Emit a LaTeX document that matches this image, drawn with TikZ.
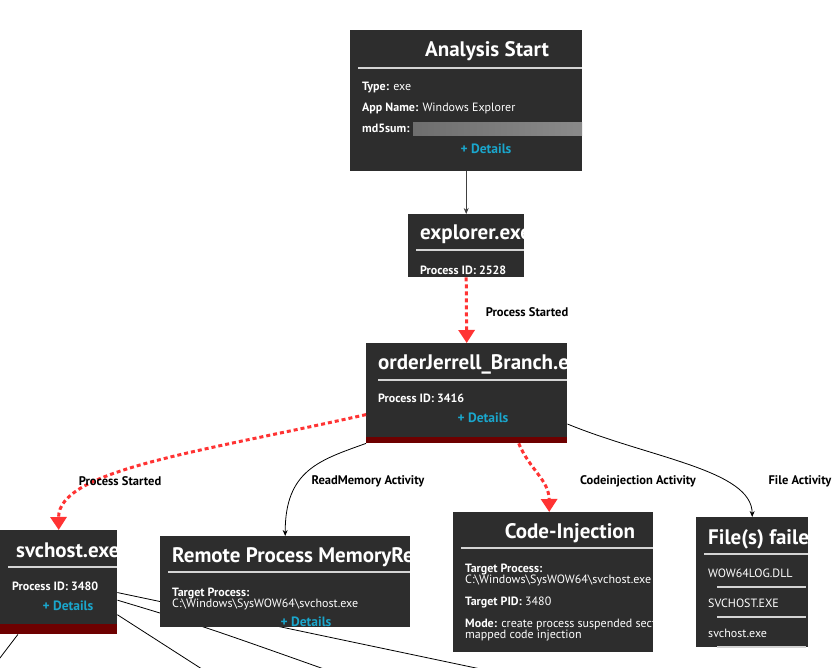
\documentclass[tikz,border=0pt]{standalone}
\usepackage{fontspec}
\setmainfont{PT Sans}
\usetikzlibrary{arrows.meta}
\definecolor{cardfill}{HTML}{2D2D2D}
\definecolor{rulegray}{HTML}{D4D4D4}
\definecolor{detailsblue}{HTML}{1AA6CC}
\definecolor{arrowred}{HTML}{FF3333}
\definecolor{barred}{HTML}{6E0000}
\definecolor{blurgray}{HTML}{8A8A8A}
\begin{document}
\begin{tikzpicture}
[x=1pt,y=-1pt,
  carddecorate/.style={shape=rectangle,fill=cardfill,inner sep=0pt,anchor=north west},%
  titledecorate/.style={anchor=base west,text=white,inner sep=0pt,font=\bfseries\fontsize{21}{25}\selectfont},%
  textdecorate/.style={anchor=base west,text=white,inner sep=0pt,font=\fontsize{12}{14}\selectfont},%
  keydecorate/.style={textdecorate,font=\bfseries\fontsize{12}{14}\selectfont},%
  detailsdecorate/.style={anchor=base,text=detailsblue,inner sep=0pt,font=\bfseries\fontsize{13.5}{15}\selectfont},%
  labeldecorate/.style={inner sep=0pt,font=\bfseries\fontsize{12.5}{14}\selectfont},%
  ruledecorate/.style={draw=rulegray,line width=1.8pt},%
  listruledecorate/.style={draw=rulegray,line width=2.2pt},%
  redlinedecorate/.style={draw=arrowred,line width=3pt,dash pattern=on 4pt off 3pt,
    -{Triangle[length=13pt,width=16pt,fill=arrowred]}},%
  blacklinedecorate/.style={draw=black,line width=0.8pt,-{Stealth[length=6pt,width=5pt]}},%
  plainlinedecorate/.style={draw=black,line width=0.8pt}]
\fill[white] (0,0) rectangle (840,668);
\useasboundingbox (0,0) rectangle (840,668);
\clip (0,0) rectangle (840,668);
%% cards
\node (start) at (350,30) [carddecorate,minimum width=232pt,minimum height=141pt] {};
\node (explorer) at (408,214) [carddecorate,minimum width=116pt,minimum height=63pt] {};
\node (order) at (366,343) [carddecorate,minimum width=201pt,minimum height=100pt] {};
\node (svchost) at (0,530) [carddecorate,minimum width=117pt,minimum height=104pt] {};
%% loose ends of the lines leaving svchost.exe
\coordinate (outa) at (628,700);
\coordinate (outb) at (355,680);
\coordinate (outc) at (219,680);
\coordinate (outd) at (-10,671);
\draw[plainlinedecorate] (svchost.-10.6) -- (outa);
\draw[plainlinedecorate] (svchost.-17.1) .. controls (200,625) .. (outb);
\draw[plainlinedecorate] (svchost.-29.4) -- (outc);
\draw[plainlinedecorate] (svchost.-128.6) -- (outd);
%% cards that hide those lines
\node (remote) at (160,536) [carddecorate,minimum width=250pt,minimum height=91pt] {};
\node (inj) at (453,512) [carddecorate,minimum width=200pt,minimum height=140pt] {};
\node (files) at (696,517) [carddecorate,minimum width=112pt,minimum height=130pt] {};
%% edges
\draw[blacklinedecorate,draw=black!75] (start.south) -- (explorer.north);
\draw[redlinedecorate] (explorer.south) -- (order.north);
\draw[redlinedecorate] (order.192) .. controls (200,452) and (58,470) .. (svchost.north);
\draw[blacklinedecorate] (order.south west) .. controls (320,460) and (285,470) .. (remote.north);
\draw[redlinedecorate] (order.-44) .. controls (530,470) and (549,480) .. ([xshift=-4pt]inj.north);
\draw[blacklinedecorate] (order.-17) .. controls (650,458) and (752,470) .. (files.north);
%% edge labels
\node (lab1) at (527,312) [labeldecorate] {Process Started};
\node (lab2) at (120,481) [labeldecorate] {Process Started};
\node (lab3) at (368,481) [labeldecorate] {ReadMemory Activity};
\node (lab4) at (638,481) [labeldecorate] {Codeinjection Activity};
\node (lab5) at (800,481) [labeldecorate] {File Activity};
%% Analysis Start
\begin{scope}
\clip (start.north west) rectangle (start.south east);
\node at (487,57) [titledecorate,anchor=base] {Analysis Start};
\draw[ruledecorate] (358,68) -- (582,68);
\node at (362,91) [textdecorate] {\textbf{Type:} exe};
\node at (362,112) [textdecorate] {\textbf{App Name:} Windows Explorer};
\node at (362,133) [keydecorate] {md5sum:};
\shade[left color=blurgray!70!cardfill,right color=blurgray] (413,123) rectangle (582,136);
\node at (486,154) [detailsdecorate] {+ Details};
\end{scope}
%% explorer.exe
\begin{scope}
\clip (explorer.north west) rectangle (explorer.south east);
\node at (420,240) [titledecorate] {explorer.exe};
\draw[ruledecorate] (416,250) -- (524,250);
\node at (420,274) [keydecorate] {Process ID: 2528};
\end{scope}
%% orderJerrell_Branch.exe
\begin{scope}
\clip (order.north west) rectangle (order.south east);
\node at (378,369) [titledecorate] {orderJerrell\_Branch.exe};
\draw[ruledecorate] (378,380) -- (567,380);
\node at (378,402) [keydecorate] {Process ID: 3416};
\node at (483,422) [detailsdecorate] {+ Details};
\fill[barred] (366,437) rectangle (567,443);
\end{scope}
%% svchost.exe
\begin{scope}
\clip (svchost.north west) rectangle (svchost.south east);
\node at (16,557) [titledecorate] {svchost.exe};
\draw[ruledecorate] (8,567) -- (117,567);
\node at (12,590) [keydecorate] {Process ID: 3480};
\node at (68,610) [detailsdecorate] {+ Details};
\fill[barred] (0,624) rectangle (117,634);
\end{scope}
%% Remote Process MemoryRead
\begin{scope}
\clip (remote.north west) rectangle (remote.south east);
\node at (172,562) [titledecorate] {Remote Process MemoryRead};
\draw[ruledecorate] (168,572) -- (410,572);
\node at (172,596) [keydecorate] {Target Process:};
\node at (172,607) [textdecorate] {C:\textbackslash Windows\textbackslash SysWOW64\textbackslash svchost.exe};
\node at (306,626) [detailsdecorate] {+ Details};
\end{scope}
%% Code-Injection
\begin{scope}
\clip (inj.north west) rectangle (inj.south east);
\node at (570,538) [titledecorate,anchor=base] {Code-Injection};
\draw[ruledecorate] (461,548) -- (653,548);
\node at (465,572) [keydecorate] {Target Process:};
\node at (465,583) [textdecorate] {C:\textbackslash Windows\textbackslash SysWOW64\textbackslash svchost.exe};
\node at (465,605) [textdecorate] {\textbf{Target PID:} 3480};
\node at (465,627) [textdecorate] {\textbf{Mode:} create process suspended section};
\node at (465,638) [textdecorate] {mapped code injection};
\end{scope}
%% File(s) failed
\begin{scope}
\clip (files.north west) rectangle (files.south east);
\node at (708,544) [titledecorate] {File(s) failed};
\draw[ruledecorate] (704,554) -- (808,554);
\foreach \itemname/\y in {WOW64LOG.DLL/577, SVCHOST.EXE/607, svchost.exe/637} {
  \node at (708,\y) [textdecorate] {\itemname};
  \draw[listruledecorate] (717,\y+10) -- (806,\y+10);
}
\end{scope}
\end{tikzpicture}
\end{document}
